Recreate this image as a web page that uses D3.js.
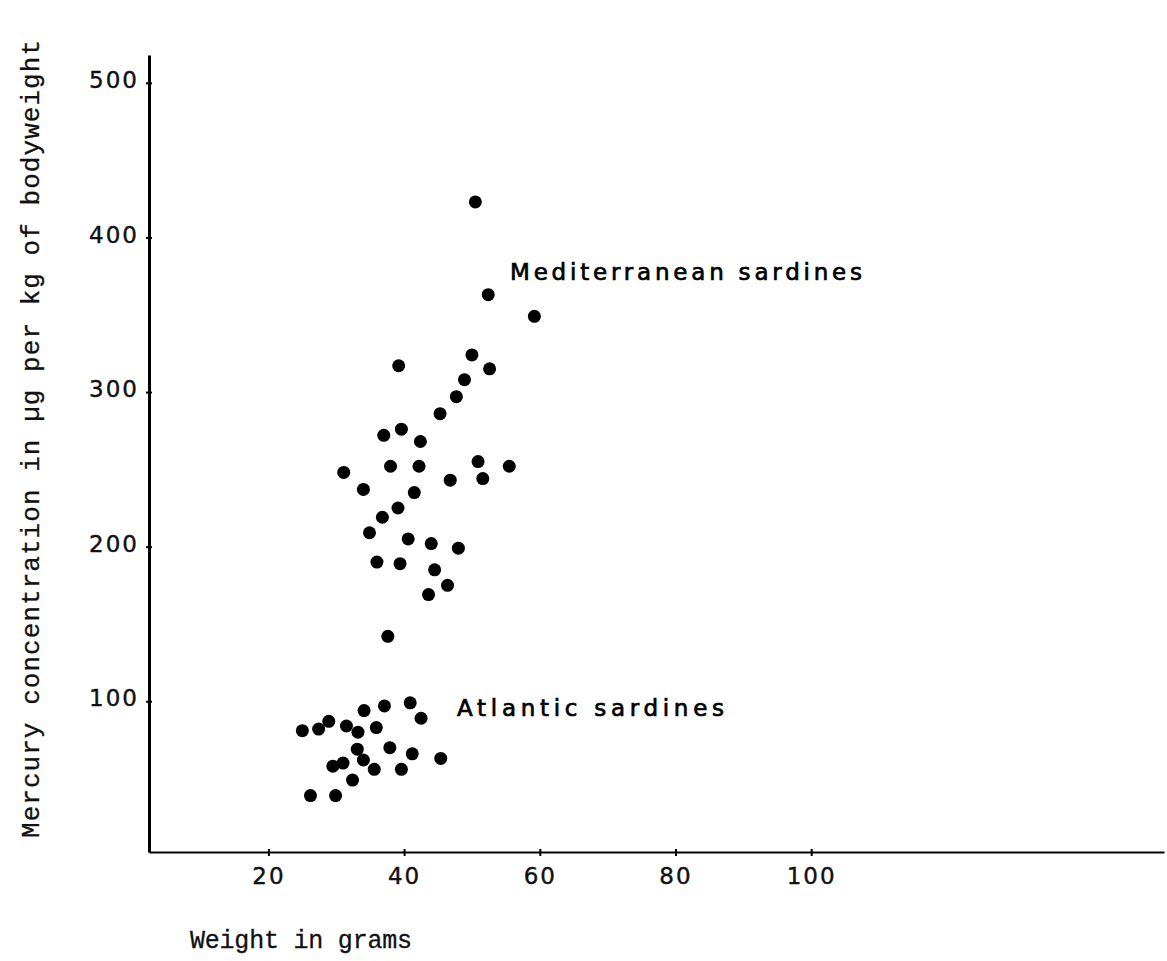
<!DOCTYPE html>
<html>
  <head>
    <meta http-equiv="Content-Type" content="text/html;charset=utf-8">
    <title>Mercury in sardines</title>
    <script src="https://cdn.jsdelivr.net/npm/d3@7"></script>
    <style type="text/css">
body {
    margin: 0;
    background: #fff;
}
.axis path, .axis line {
    stroke: #000;
}
.axis text {
    font-family: "DejaVu Sans", sans-serif;
    font-size: 23px;
    letter-spacing: 2px;
    fill: #111;
    stroke: #111;
    stroke-width: 0.4px;
}
.dot {
    fill: #000;
}
.mono {
    font-family: "Liberation Mono", "DejaVu Sans Mono", monospace;
    fill: #111;
    stroke: #111;
    stroke-width: 0.3px;
}
.note {
    font-family: "DejaVu Sans", sans-serif;
    font-size: 23px;
    fill: #000;
    stroke: #000;
    stroke-width: 0.7px;
}
    </style>
  </head>
  <body>
    <script type="text/javascript">
// weight (g) and mercury (ug/kg)
var medWeight = [50.5, 52.4, 59.2, 50.0, 39.2, 52.6, 48.9, 47.7, 45.3, 39.6, 37.0,
                 42.4, 38.0, 42.2, 50.9, 55.5, 31.1, 46.8, 51.6, 34.0, 41.5, 39.1,
                 36.8, 34.9, 40.6, 44.0, 48.0, 36.0, 39.4, 44.5, 46.4, 43.6, 37.6];
var medHg =     [423, 363, 349, 324, 317, 315, 308, 297, 286, 276, 272,
                 268, 252, 252, 255, 252, 248, 243, 244, 237, 235, 225,
                 219, 209, 205, 202, 199, 190, 189, 185, 175, 169, 142];

var atlWeight = [25.0, 27.4, 28.9, 31.5, 33.2, 35.9, 34.1, 37.1, 40.9, 42.5, 33.1,
                 34.0, 37.9, 41.2, 45.4, 31.0, 29.5, 35.6, 39.6, 32.4, 26.2, 29.9];
var atlHg =     [81, 82, 87, 84, 80, 83, 94, 97, 99, 89, 69,
                 62, 70, 66, 63, 60, 58, 56, 56, 49, 39, 39];

var xTicks = [20, 40, 60, 80, 100],
    yTicks = [100, 200, 300, 400, 500];

var medLabel = 'Mediterranean sardines',
    atlLabel = 'Atlantic sardines',
    xTitle = 'Weight in grams',
    yTitle = 'Mercury concentration in \u00b5g per kg of bodyweight';

var w = 1167,
    h = 961,
    r = 6.5;

var x = d3.scaleLinear().domain([2.4, 152]).range([149, 1164]),
    y = d3.scaleLinear().domain([2.5, 518]).range([852, 55]);

var svg = d3.select('body').append('svg')
    .attr('width', w)
    .attr('height', h);

// axes
var yAxis = svg.append('g')
    .attr('class', 'axis')
    .attr('transform', 'translate(' + x.range()[0] + ',0)')
    .call(d3.axisLeft(y).tickValues(yTicks).tickSizeInner(3).tickSizeOuter(0).tickPadding(7));
yAxis.select('.domain').attr('stroke-width', 3);
yAxis.selectAll('.tick line').attr('x2', 3).attr('x1', -3).attr('stroke-width', 2);
yAxis.selectAll('.tick text').attr('dy', '0.2em');

var xAxis = svg.append('g')
    .attr('class', 'axis')
    .attr('transform', 'translate(0,' + y.range()[0] + ')')
    .call(d3.axisBottom(x).tickValues(xTicks).tickSizeInner(3).tickSizeOuter(0).tickPadding(13));
xAxis.select('.domain').attr('stroke-width', 2);
xAxis.selectAll('.tick line').attr('y1', -3).attr('y2', 4).attr('stroke-width', 2);

// points
function plot(xs, ys, cls) {
    svg.selectAll('circle.' + cls)
        .data(d3.zip(xs, ys))
      .enter().append('circle')
        .attr('class', 'dot ' + cls)
        .attr('cx', function(d) { return x(d[0]) })
        .attr('cy', function(d) { return y(d[1]) })
        .attr('r', r);
}
plot(medWeight, medHg, 'med');
plot(atlWeight, atlHg, 'atl');

// labels
svg.append('text')
    .attr('class', 'note')
    .attr('x', 510)
    .attr('y', 280)
    .attr('textLength', 352)
    .attr('lengthAdjust', 'spacing')
    .text(medLabel);

svg.append('text')
    .attr('class', 'note')
    .attr('x', 457)
    .attr('y', 716)
    .attr('textLength', 267)
    .attr('lengthAdjust', 'spacing')
    .text(atlLabel);

svg.append('text')
    .attr('class', 'mono')
    .attr('x', 190)
    .attr('y', 948)
    .attr('font-size', 25)
    .attr('textLength', 222)
    .attr('lengthAdjust', 'spacing')
    .text(xTitle);

svg.append('text')
    .attr('class', 'mono')
    .attr('transform', 'translate(39,838) rotate(-90)')
    .attr('font-size', 26)
    .attr('textLength', 798)
    .attr('lengthAdjust', 'spacing')
    .text(yTitle);
    </script>
  </body>
</html>
